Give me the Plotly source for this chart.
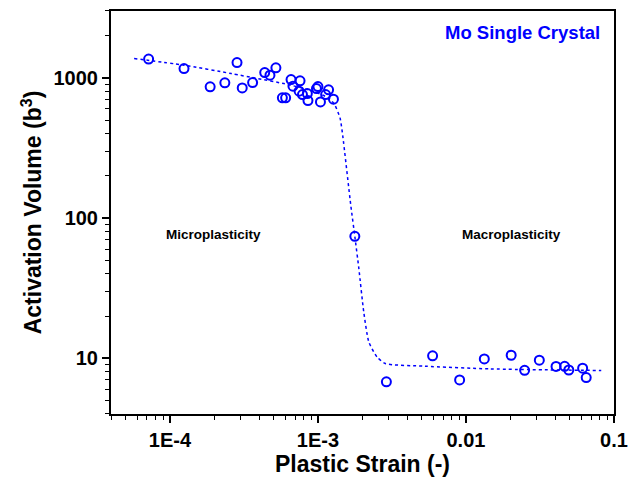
import plotly.graph_objects as go

# Measured data (plastic strain, activation volume in b^3)
strain = [7.18e-5, 1.245e-4, 1.87e-4, 2.35e-4, 2.84e-4, 3.08e-4, 3.62e-4, 4.37e-4,
          4.74e-4, 5.20e-4, 5.75e-4, 6.05e-4, 6.58e-4, 6.78e-4, 7.46e-4, 7.57e-4,
          7.86e-4, 8.48e-4, 8.56e-4, 9.77e-4, 1.00e-3, 1.04e-3, 1.127e-3, 1.18e-3,
          1.273e-3, 1.775e-3, 2.90e-3, 5.95e-3, 9.06e-3, 0.0133, 0.0202, 0.0249,
          0.0313, 0.0406, 0.0464, 0.0495, 0.0614, 0.0649]
volume = [1361, 1165, 863, 921, 1286, 848, 926, 1091,
          1045, 1179, 720, 720, 973, 873, 804, 952,
          760, 772, 689, 839, 866, 674, 760, 821,
          705, 74.0, 6.78, 10.4, 7.0, 9.89, 10.5, 8.2,
          9.68, 8.73, 8.75, 8.24, 8.49, 7.28]

# Fit curve
fit_strain = [5.73e-5, 1.245e-4, 2.60e-4, 3.91e-4, 5.88e-4, 8.83e-4, 1.197e-3, 1.30e-3,
              1.41e-3, 1.469e-3, 1.667e-3, 1.775e-3, 1.89e-3, 2.04e-3, 2.21e-3, 2.51e-3,
              2.85e-3, 5.25e-3, 1.452e-2, 0.082]
fit_volume = [1374, 1232, 1073, 989, 910, 817, 712, 640,
              518, 390, 123, 74, 43.5, 21.3, 13.0, 10.2,
              9.16, 8.77, 8.39, 8.17]

x_tickvals = [1e-4, 1e-3, 1e-2, 1e-1]
x_ticktext = ["1E-4", "1E-3", "0.01", "0.1"]
y_tickvals = [10, 100, 1000]
y_ticktext = ["10", "100", "1000"]

BLUE = "#0000FF"
FONT = "Liberation Sans"

fig = go.Figure()
fig.add_trace(go.Scatter(x=fit_strain, y=fit_volume, mode="lines",
                         line=dict(color=BLUE, width=1.5, dash="dot", shape="spline", smoothing=0.6),
                         showlegend=False, hoverinfo="skip"))
fig.add_trace(go.Scatter(x=strain, y=volume, mode="markers",
                         marker=dict(symbol="circle-open", size=9, color=BLUE,
                                     line=dict(width=2, color=BLUE)),
                         showlegend=False))

axis_common = dict(showline=True, linecolor="black", linewidth=2, mirror=True,
                   showgrid=False, zeroline=False, ticks="outside", ticklen=7,
                   tickwidth=1.6, tickcolor="black",
                   tickfont=dict(family=FONT, size=20, color="black", weight="bold"))

fig.update_xaxes(type="log", range=[-4.398, -1.0], tickmode="array",
                 tickvals=x_tickvals, ticktext=x_ticktext,
                 minor=dict(ticks="outside", ticklen=4, tickwidth=1.3, tickcolor="black",
                            dtick="D1", showgrid=False),
                 title=dict(text="Plastic Strain (-)", standoff=3,
                            font=dict(family=FONT, size=23, color="black", weight="bold")),
                 **axis_common)
fig.update_yaxes(type="log", range=[0.602, 3.477], tickmode="array",
                 tickvals=y_tickvals, ticktext=y_ticktext,
                 minor=dict(ticks="outside", ticklen=4, tickwidth=1.3, tickcolor="black",
                            dtick="D1", showgrid=False),
                 title=dict(text="Activation Volume (b<sup>3</sup>)", standoff=5,
                            font=dict(family=FONT, size=23, color="black", weight="bold")),
                 **axis_common)

fig.add_annotation(x=-3.706, y=1.886, xref="x", yref="y", text="Microplasticity",
                   showarrow=False, font=dict(family=FONT, size=13.5, color="black", weight="bold"))
fig.add_annotation(x=-1.690, y=1.886, xref="x", yref="y", text="Macroplasticity",
                   showarrow=False, font=dict(family=FONT, size=13.5, color="black", weight="bold"))
fig.add_annotation(x=0.977, y=0.946, xref="paper", yref="paper", xanchor="right",
                   yanchor="middle", text="Mo Single Crystal", showarrow=False,
                   font=dict(family=FONT, size=18.5, color=BLUE, weight="bold"))

fig.update_layout(width=637, height=481, margin=dict(l=111, r=14, t=9, b=67),
                  plot_bgcolor="white", paper_bgcolor="white")

fig.write_html("out.html")
